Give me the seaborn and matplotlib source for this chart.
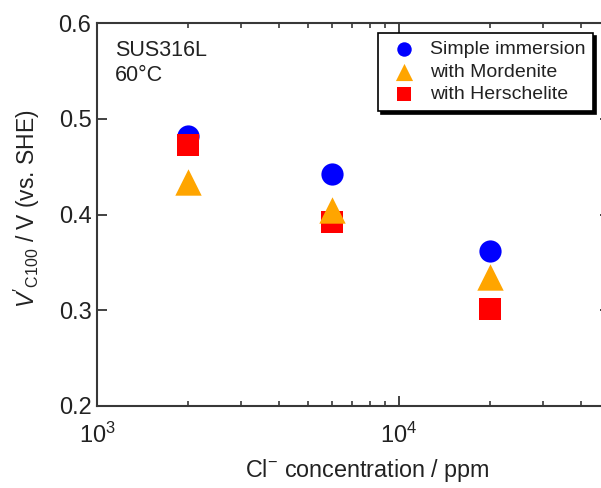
import numpy as np
import pandas as pd
import matplotlib
matplotlib.use("Agg")
import matplotlib.pyplot as plt
import seaborn as sns
from matplotlib.ticker import LogLocator, NullFormatter, FixedLocator

# ---- data ----
cl_ppm = [2000, 6000, 20000]
simple_immersion = [0.482, 0.442, 0.362]
with_mordenite = [0.434, 0.405, 0.335]
with_herschelite = [0.473, 0.392, 0.301]
series_names = ["Simple immersion", "with Mordenite", "with Herschelite"]
y_ticks = [0.2, 0.3, 0.4, 0.5, 0.6]

sns.set_theme(style="ticks")
plt.rcParams["font.family"] = ["Liberation Sans", "DejaVu Sans"]
plt.rcParams["mathtext.fontset"] = "custom"
plt.rcParams["mathtext.rm"] = "Liberation Sans"
plt.rcParams["mathtext.it"] = "Liberation Sans:italic"
plt.rcParams["mathtext.bf"] = "Liberation Sans:bold"

W, H = 601, 488
fig = plt.figure(figsize=(W / 100, H / 100), dpi=100)
left, right, top, bottom = 97, 610, 23, 406
ax = fig.add_axes([left / W, (H - bottom) / H, (right - left) / W, (bottom - top) / H])

frames = []
for name, vals in zip(series_names, [simple_immersion, with_mordenite, with_herschelite]):
    frames.append(pd.DataFrame({"x": cl_ppm, "y": vals, "series": name}))
df = pd.concat(frames, ignore_index=True)

styles = {
    "Simple immersion": dict(color="#0000ff", marker="o", s=16.0 ** 2),
    "with Mordenite": dict(color="#ffa500", marker="^", s=19.0 ** 2),
    "with Herschelite": dict(color="#ff0000", marker="s", s=16.5 ** 2),
}
draw_order = ["Simple immersion", "with Herschelite", "with Mordenite"]
for z, name in enumerate(draw_order):
    st = styles[name]
    sns.scatterplot(data=df[df["series"] == name], x="x", y="y", ax=ax,
                    color=st["color"], marker=st["marker"], s=st["s"],
                    linewidth=0, label=name, zorder=3 + z)

ax.set_xscale("log")
ax.set_xlim(1000, 50000)
ax.set_ylim(0.2, 0.6)
ax.yaxis.set_major_locator(FixedLocator(y_ticks))
ax.set_yticklabels([f"{v:.1f}" for v in y_ticks])
ax.xaxis.set_major_locator(LogLocator(base=10))
ax.xaxis.set_minor_locator(LogLocator(base=10, subs=np.arange(2, 10)))
ax.xaxis.set_minor_formatter(NullFormatter())

spine_col = "#383838"
for sp in ax.spines.values():
    sp.set_visible(True)
    sp.set_color(spine_col)
    sp.set_linewidth(1.5)
ax.tick_params(which="both", direction="in", top=True, right=True, color=spine_col, width=1.2)
ax.tick_params(which="major", length=7.5, labelsize=17, colors="#222222")
ax.tick_params(which="minor", length=3.5)
ax.tick_params(axis="y", which="major", pad=4)
ax.tick_params(axis="x", which="major", pad=12)
ax.grid(False)

ax.set_xlabel(r"Cl$^{-}$ concentration / ppm", fontsize=16.8, color="#222222")
ax.xaxis.set_label_coords((367 - left) / (right - left), -(470 - bottom) / (bottom - top),
                          transform=ax.transAxes)
ax.xaxis.label.set_va("center")
ax.set_ylabel(r"$V'_{\mathrm{C100}}$ / V (vs. SHE)", fontsize=16.5, color="#222222")
ax.yaxis.set_label_coords(-(left - 27) / (right - left), (bottom - 209) / (bottom - top),
                          transform=ax.transAxes)
ax.yaxis.label.set_va("center")

ax.text(115 / W, 1 - 40 / H, "SUS316L\n60°C", transform=fig.transFigure,
        fontsize=15.5, va="top", ha="left", color="#222222", linespacing=1.25)

handles, labels = ax.get_legend_handles_labels()
hmap = dict(zip(labels, handles))
leg = ax.legend([hmap[n] for n in series_names], series_names,
                loc="upper right", bbox_to_anchor=(593 / W, 1 - 33 / H),
                bbox_transform=fig.transFigure, fontsize=14, frameon=True,
                fancybox=False, shadow={"color": "black", "alpha": 1},
                edgecolor="black", framealpha=1, markerscale=0.65,
                handletextpad=0.4, borderpad=0.4, labelspacing=0.25,
                handlelength=1.87, borderaxespad=0)
leg.get_frame().set_linewidth(1.2)
for t in leg.get_texts():
    t.set_color("#222222")

fig.savefig("out.png", dpi=100)
